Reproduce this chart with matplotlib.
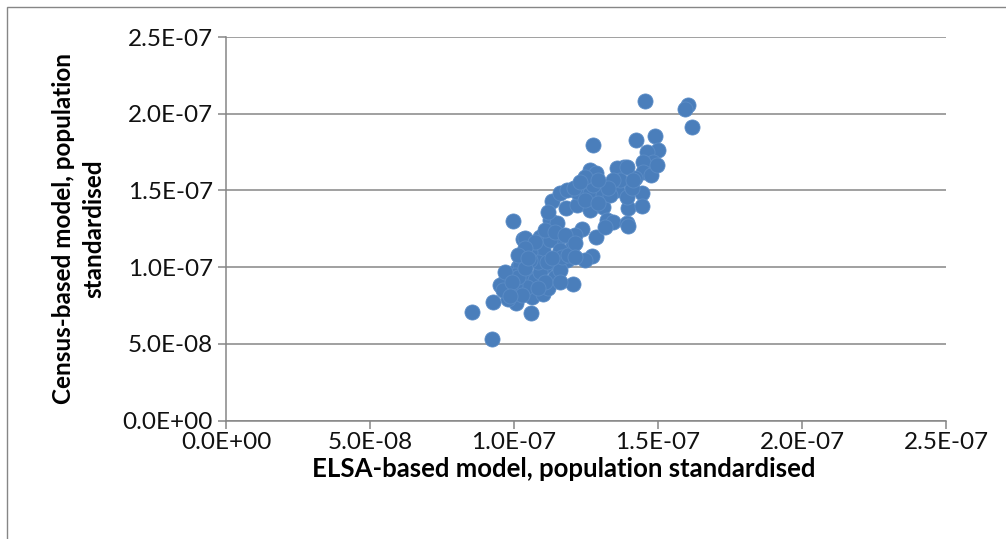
import matplotlib
matplotlib.use("Agg")
import matplotlib.pyplot as plt
from matplotlib.patches import Rectangle
from matplotlib.ticker import FuncFormatter, MultipleLocator

plt.rcParams["font.family"] = ["Lato", "DejaVu Sans"]

# values, in units of 1e-8
elsa = [
    8.54, 9.27, 9.24, 10.59, 10.07, 9.69, 9.83, 10.14, 10.63, 11.01,
    12.05, 9.97, 10.31, 10.21, 10.45, 10.73, 10.45, 10.03, 11.08, 10.76,
    11.42, 11.18, 11.84, 12.05, 11.60, 11.25, 11.49, 10.90, 10.66, 11.01,
    11.25, 11.60, 11.32, 12.36, 12.71, 12.47, 12.85, 10.38, 11.08, 10.56,
    11.42, 10.03, 10.90, 10.28, 9.79, 11.60, 12.12, 11.18, 11.81, 12.19,
    12.64, 13.09, 13.23, 13.44, 13.92, 13.96, 12.19, 12.64, 13.09, 13.58,
    11.60, 11.84, 12.74, 13.16, 13.33, 13.96, 14.44, 14.44, 13.92, 14.10,
    12.08, 14.55, 16.04, 15.94, 16.18, 12.74, 14.24, 14.90, 15.00, 14.62,
    14.83, 14.48, 14.48, 14.20, 13.82, 13.58, 13.68, 12.64, 12.85, 12.47,
    13.92, 14.13, 13.44, 14.76, 14.97, 10.83, 11.67, 11.88, 10.14, 9.51,
    9.62, 10.73, 11.42, 11.77, 12.12, 12.12, 11.15, 10.56, 10.38, 12.47,
    12.92, 13.26, 12.92, 12.29, 9.69, 9.93, 10.38, 11.08, 11.32, 10.14,
    10.49, 9.86, 10.83, 11.60,
]
census = [
    7.08, 7.70, 5.32, 7.02, 7.67, 9.11, 8.58, 10.02, 8.06, 8.26,
    8.91, 13.02, 11.85, 10.15, 9.37, 9.17, 8.71, 8.84, 10.08, 10.48,
    9.37, 8.65, 10.48, 11.45, 11.98, 13.09, 12.89, 11.98, 11.32, 11.13,
    11.78, 11.13, 14.33, 12.50, 10.74, 10.48, 11.98, 11.91, 12.43, 11.00,
    10.35, 9.50, 9.70, 8.19, 7.93, 9.82, 12.10, 13.61, 13.87, 14.07,
    13.74, 13.94, 13.09, 12.96, 12.89, 12.70, 14.92, 14.85, 14.72, 15.04,
    14.85, 15.04, 15.37, 12.63, 14.72, 13.87, 14.85, 14.00, 14.59, 15.17,
    15.17, 20.86, 20.59, 20.33, 19.16, 17.98, 18.31, 18.57, 17.66, 17.53,
    16.87, 16.87, 16.22, 15.83, 16.55, 16.48, 15.70, 16.35, 16.16, 15.89,
    16.55, 15.70, 15.70, 16.02, 16.68, 10.35, 10.67, 10.80, 9.37, 8.84,
    8.52, 11.65, 12.30, 12.10, 11.59, 10.67, 10.35, 10.48, 11.26, 14.39,
    14.20, 15.17, 15.70, 15.57, 9.69, 9.04, 9.95, 9.04, 10.61, 10.80,
    10.61, 8.13, 8.65, 9.04,
]
x_vals = [v * 1e-8 for v in elsa]
y_vals = [v * 1e-8 for v in census]

x_label = "ELSA-based model, population standardised"
y_label = "Census-based model, population\nstandardised"

W, H = 1006, 539
fig = plt.figure(figsize=(W / 100, H / 100), dpi=100)
ax = fig.add_axes([226 / W, 1 - 420.5 / H, 720 / W, 383.5 / H])

grey = "#868686"
ax.scatter(x_vals, y_vals, s=118, color="#4a7ebb", edgecolors="#5b8cc6",
           linewidths=0.6, zorder=3, clip_on=False)

ax.set_xlim(0, 2.5e-7)
ax.set_ylim(0, 2.5e-7)
ax.xaxis.set_major_locator(MultipleLocator(5e-8))
ax.yaxis.set_major_locator(MultipleLocator(5e-8))
fmt = FuncFormatter(lambda v, p: f"{v:.1E}")
ax.xaxis.set_major_formatter(fmt)
ax.yaxis.set_major_formatter(fmt)

ax.grid(True, axis="y", color=grey, linewidth=1.1)
ax.set_axisbelow(True)
for side in ["top", "right"]:
    ax.spines[side].set_visible(False)
for side in ["left", "bottom"]:
    ax.spines[side].set_color(grey)
    ax.spines[side].set_linewidth(1.1)
ax.tick_params(axis="both", direction="out", length=5.5, width=1.1,
               color=grey, labelsize=17.5, labelcolor="#111111")
ax.tick_params(axis="y", pad=4)
ax.tick_params(axis="x", pad=3)

fig.text(564 / W, 1 - 477 / H, x_label, ha="center", va="baseline",
         fontsize=18.5, fontweight="bold")
fig.text(79 / W, 1 - 229 / H, y_label, ha="center", va="center",
         rotation=90, multialignment="center", fontsize=17.5,
         fontweight="bold", linespacing=1.4)

# chart border, cut by the crop on the right and bottom
fig.patches.append(Rectangle((7 / W, -0.1), 1.1, 1.1 - 7 / H,
                             transform=fig.transFigure, fill=False,
                             edgecolor=grey, linewidth=1.0))

fig.savefig("out.png", dpi=100)
plt.close(fig)
